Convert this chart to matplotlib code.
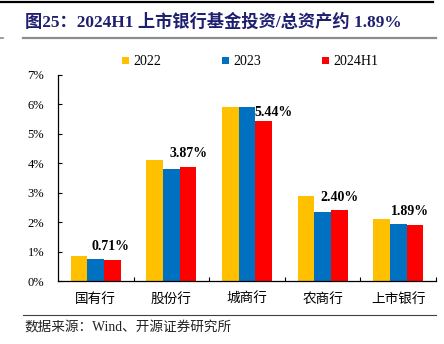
import numpy as np
import matplotlib.pyplot as plt
from matplotlib.patches import Patch
from matplotlib.lines import Line2D

# 各类银行基金投资占总资产比例（%）
banks = ['国有行', '股份行', '城商行', '农商行', '上市银行']
years = ['2022', '2023', '2024H1']
v2022 = [0.85, 4.12, 5.92, 2.89, 2.11]
v2023 = [0.75, 3.81, 5.92, 2.35, 1.94]
v2024 = [0.71, 3.87, 5.44, 2.40, 1.89]
colors = ['#FFC000', '#0070C0', '#FF0000']

serif_cjk = ['Liberation Serif', 'Noto Sans CJK SC']

fig = plt.figure(figsize=(4.44, 3.44), dpi=100)
ax = fig.add_axes([0.1306, 0.1831, 0.8514, 0.5989])

x = np.arange(len(banks))
w = 0.22
for k, vals in enumerate([v2022, v2023, v2024]):
    ax.bar(x + (k - 1) * w, vals, width=w, color=colors[k], edgecolor='none')

# 数据标签（标在2024H1柱子上方），偏移单位为像素
offsets = [(-2, 14), (0, 14), (10, 8), (0, 13), (-5, 14)]
for i, v in enumerate(v2024):
    dx, dy = offsets[i]
    ax.annotate(f'{v:.2f}%', xy=(x[i] + w, v), xytext=(dx * 0.72, dy * 0.72),
                textcoords='offset points', ha='center', va='center',
                fontsize=10, fontweight='bold', family='Liberation Serif')

ax.set_xlim(-0.5, len(banks) - 0.5)
ax.set_ylim(0, 7)
ax.set_yticks(range(8))
ax.set_yticklabels([f'{i}%' for i in range(8)], family='Liberation Serif', fontsize=9)
ax.tick_params(axis='y', direction='in', length=3, width=0.8, pad=10)

ax.set_xticks(x)
ax.set_xticklabels(banks, family='Noto Sans CJK SC', fontsize=9.8)
ax.set_xticks(np.arange(len(banks)) + 0.5, minor=True)
ax.tick_params(axis='x', which='major', length=0, pad=8)
ax.tick_params(axis='x', which='minor', direction='in', length=3, width=0.8)

for s in ['top', 'right']:
    ax.spines[s].set_visible(False)
for s in ['left', 'bottom']:
    ax.spines[s].set_linewidth(0.9)

# 图例
handles = [Patch(facecolor=c, edgecolor='none') for c in colors]
fig.legend(handles, years, loc='center', bbox_to_anchor=(0.563, 0.82), ncol=3,
           frameon=False, handlelength=0.5, handleheight=0.5, handletextpad=0.3,
           columnspacing=4.4, prop={'family': 'Liberation Serif', 'size': 10})

# 标题与分隔线
fig.text(25 / 444, 1 - 22 / 344, '图25：2024H1 上市银行基金投资/总资产约 1.89%',
         family=serif_cjk, fontsize=12.4, fontweight='bold', color='#1F1F70',
         ha='left', va='center')
fig.add_artist(Line2D([0, 433 / 444], [1 - 2 / 344] * 2, color='black', lw=1.6))
fig.add_artist(Line2D([23 / 444, 436 / 444], [1 - 38 / 344] * 2, color='#8C8C8C', lw=1.6))
fig.add_artist(Line2D([0, 3 / 444], [1 - 38 / 344] * 2, color='#8C8C8C', lw=1.2))
fig.add_artist(Line2D([23 / 444, 436 / 444], [1 - 315 / 344] * 2, color='#404040', lw=0.8))

fig.text(24 / 444, 1 - 328 / 344, '数据来源：Wind、开源证券研究所',
         family=serif_cjk, fontsize=9.8, color='#222222', ha='left', va='center')

fig.savefig('out.png', dpi=100)
